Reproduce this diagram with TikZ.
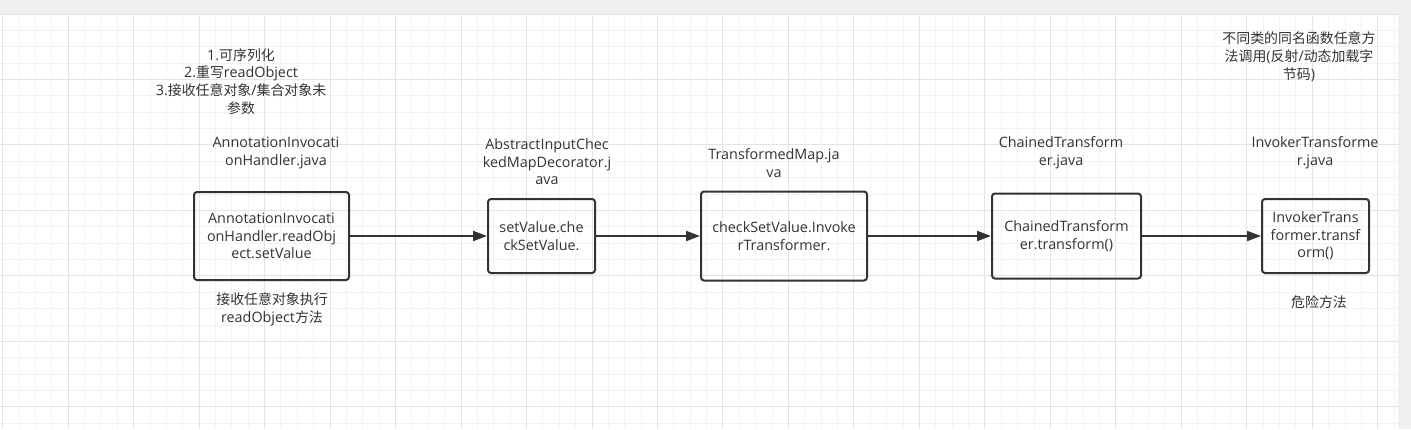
\documentclass[tikz,border=0pt]{standalone}
\usepackage{fontspec}
\setmainfont{Open Sans}
\newfontfamily\cjk{Noto Sans CJK SC}[Scale=0.97]
\newcommand{\zh}[1]{{\cjk #1}}
\usetikzlibrary{arrows.meta}
\definecolor{txt}{HTML}{333333}
\definecolor{band}{HTML}{F0F0F0}
\definecolor{gminor}{HTML}{F3F3F3}
\definecolor{gmajor}{HTML}{E4E4E4}
\tikzset{
  lbl/.style={text=txt, align=center, inner sep=0pt, font=\fontsize{14.4}{17.7}\selectfont},
  box/.style={lbl, draw=txt, line width=2bp, rounded corners=3bp},
  arr/.style={draw=txt, line width=2bp, -{Triangle[length=14bp,width=10bp]}}
}
\begin{document}
\begin{tikzpicture}[x=1bp,y=-1bp]
\useasboundingbox (0,0) rectangle (1411,429);
\fill[white] (0,0) rectangle (1411,429);
\fill[band] (0,0) rectangle (1411,14);
\fill[band] (1398,0) rectangle (1411,429);
% grid
\foreach \i [evaluate=\i as \xx using 2.7+16.37*\i] in {0,...,85}
  \draw[gminor, line width=1bp] (\xx,14) -- (\xx,429);
\foreach \j [evaluate=\j as \yy using 14+16.37*\j] in {0,...,25}
  \draw[gminor, line width=1bp] (0,\yy) -- (1398,\yy);
\foreach \i [evaluate=\i as \xx using 2.7+65.48*\i] in {0,...,21}
  \draw[gmajor, line width=1bp] (\xx,14) -- (\xx,429);
\foreach \j [evaluate=\j as \yy using 14+65.48*\j] in {0,...,6}
  \draw[gmajor, line width=1bp] (0,\yy) -- (1398,\yy);
% labels
\node[lbl] (t1) at (241,81.5) {1.\zh{可序列化}\\2.\zh{重写}readObject\\3.\zh{接收任意对象}/\zh{集合对象未}\\\zh{参数}};
\node[lbl] (t2) at (276,153) {AnnotationInvocati\\onHandler.java};
\node[lbl] (t3) at (272,309.5) {\zh{接收任意对象执行}\\readObject\zh{方法}};
\node[lbl] (t4) at (547,161.7) {AbstractInputChec\\kedMapDecorator.j\\ava};
\node[lbl] (t5) at (774,163.3) {TransformedMap.ja\\va};
\node[lbl] (t6) at (1061,153) {ChainedTransform\\er.java};
\node[lbl] (t7) at (1315,153) {InvokerTransforme\\r.java};
\node[lbl] (t8) at (1319,302) {\zh{危险方法}};
\node[lbl] (t9) at (1299,56.7) {\zh{不同类的同名函数任意方}\\\zh{法调用}(\zh{反射}/\zh{动态加载字}\\\zh{节码})};
% boxes
\node[box, minimum width=155bp, minimum height=88bp] (b1) at (271.5,236) {AnnotationInvocati\\onHandler.readObj\\ect.setValue};
\node[box, minimum width=107bp, minimum height=74bp] (b2) at (541.5,236) {setValue.che\\ckSetValue.};
\node[box, minimum width=166bp, minimum height=89bp] (b3) at (784,236) {checkSetValue.Invoke\\rTransformer.};
\node[box, minimum width=149bp, minimum height=85bp] (b4) at (1066.5,236) {ChainedTransform\\er.transform()};
\node[box, minimum width=107bp, minimum height=74bp] (b5) at (1315.5,236) {InvokerTrans\\former.transf\\orm()};
% arrows
\draw[arr] (b1.east) -- (b2.west);
\draw[arr] (b2.east) -- (b3.west);
\draw[arr] (b3.east) -- (b4.west);
\draw[arr] (b4.east) -- (b5.west);
\end{tikzpicture}
\end{document}
